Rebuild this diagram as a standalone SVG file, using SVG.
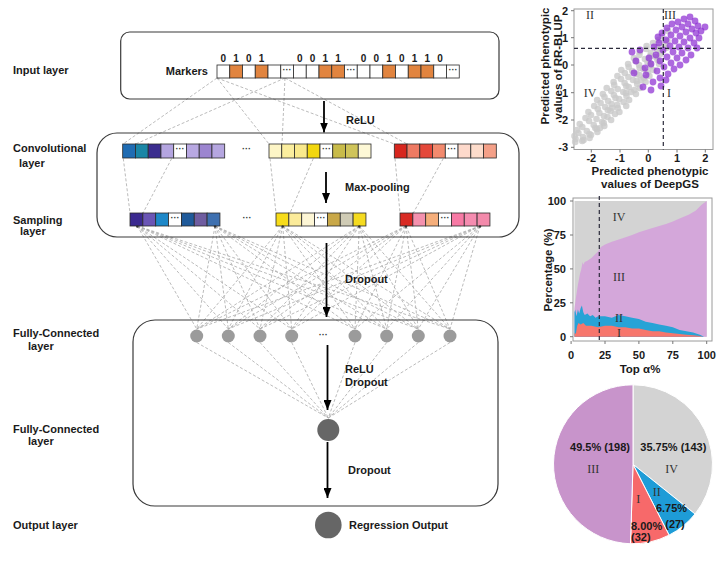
<svg xmlns="http://www.w3.org/2000/svg" width="720" height="571" viewBox="0 0 720 571">
<style>
.lbl{font-family:"Liberation Sans",Arial,sans-serif;font-weight:bold;font-size:11px;fill:#1a1a1a}
.dig{font-family:"Liberation Sans",Arial,sans-serif;font-weight:bold;font-size:10px;fill:#1a1a1a;text-anchor:middle}
.dots{font-family:"Liberation Sans",Arial,sans-serif;font-weight:bold;font-size:9px;fill:#333;text-anchor:middle}
.rom{font-family:"Liberation Serif","Times New Roman",serif;font-size:12px;fill:#333;text-anchor:middle}
.tk{font-family:"Liberation Sans",Arial,sans-serif;font-weight:bold;font-size:11px;fill:#1a1a1a}
.ttl{font-family:"Liberation Sans",Arial,sans-serif;font-weight:bold;font-size:11.5px;fill:#1a1a1a;text-anchor:middle}
.dash{stroke:#a9a9a9;stroke-width:0.8;stroke-dasharray:3 2;fill:none}
.box{fill:none;stroke:#3a3a3a;stroke-width:1.2}
.cell{stroke:#2a2a2a;stroke-width:0.8}
.arr{stroke:#000;stroke-width:1.8;fill:none;marker-end:url(#ah)}
.frame{fill:none;stroke:#9a9a9a;stroke-width:1}
.tick{stroke:#777;stroke-width:1}
.gp circle{fill:#c9c9c9;fill-opacity:0.8}
.pp circle{fill:#8e2fd2;fill-opacity:0.72}
.ref{stroke:#2b2b3b;stroke-width:1.2;stroke-dasharray:4 3;fill:none}
</style>
<defs>
<marker id="ah" markerWidth="10" markerHeight="8" refX="10" refY="4" orient="auto" markerUnits="userSpaceOnUse"><path d="M0,0 L10,4 L0,8 Z" fill="#000"/></marker>
</defs>
<rect x="0" y="0" width="720" height="571" fill="#fff"/>

<!-- Connectors -->
<g id="connectors">
<path class="dash" d="M217,78L123,144M285,78L135.7,144M217,78L269,144M285,78L282,144M217,78L394.3,144M285,78L407,144"/>
<path class="dash" d="M123.3,158.5L130,213M171.7,158.5L143,213M270,158.5L276,213M313.3,158.5L290,213M395,158.5L400,213M443.3,158.5L413.3,213"/>
<path class="dash" d="M137.3,226L196.7,329M137.3,226L228.3,329M137.3,226L260,329M137.3,226L291.7,329M137.3,226L355,329M137.3,226L386.7,329M137.3,226L418.3,329M137.3,226L450,329
M215,226L196.7,329M215,226L228.3,329M215,226L260,329M215,226L291.7,329M215,226L355,329M215,226L386.7,329M215,226L418.3,329M215,226L450,329
M282.7,226L196.7,329M282.7,226L228.3,329M282.7,226L260,329M282.7,226L291.7,329M282.7,226L355,329M282.7,226L386.7,329M282.7,226L418.3,329M282.7,226L450,329
M359.3,226L196.7,329M359.3,226L228.3,329M359.3,226L260,329M359.3,226L291.7,329M359.3,226L355,329M359.3,226L386.7,329M359.3,226L418.3,329M359.3,226L450,329
M406,226L196.7,329M406,226L228.3,329M406,226L260,329M406,226L291.7,329M406,226L355,329M406,226L386.7,329M406,226L418.3,329M406,226L450,329
M480,226L196.7,329M480,226L228.3,329M480,226L260,329M480,226L291.7,329M480,226L355,329M480,226L386.7,329M480,226L418.3,329M480,226L450,329"/>
<path class="dash" d="M196.7,342.5L328.3,418M228.3,342.5L328.3,418M260,342.5L328.3,418M291.7,342.5L328.3,418M355,342.5L328.3,418M386.7,342.5L328.3,418M418.3,342.5L328.3,418M450,342.5L328.3,418"/>
<line class="arr" x1="324" y1="101" x2="324" y2="132.5"/>
<line class="arr" x1="326" y1="172" x2="326" y2="203"/>
<line class="arr" x1="326.5" y1="243" x2="326.5" y2="317"/>
<line class="arr" x1="327.5" y1="345" x2="327.5" y2="410"/>
<line class="arr" x1="327.5" y1="442" x2="327.5" y2="498"/>
<text class="lbl" x="346" y="124">ReLU</text>
<text class="lbl" x="345" y="190.5">Max-pooling</text>
<text class="lbl" x="345" y="283">Dropout</text>
<text class="lbl" x="345" y="373">ReLU</text>
<text class="lbl" x="345" y="386">Dropout</text>
<text class="lbl" x="348" y="474">Dropout</text>
</g>

<!-- Input layer -->
<g id="input-layer">
<rect class="box" x="120.7" y="32" width="378.3" height="67" rx="9"/>
<text class="lbl" x="13" y="74">Input layer</text>
<text class="lbl" x="208" y="74.5" text-anchor="end">Markers</text>
<g class="cell">
<rect x="217" y="65" width="12.75" height="13" fill="#fff"/>
<rect x="229.75" y="65" width="12.75" height="13" fill="#e1843f"/>
<rect x="242.5" y="65" width="12.75" height="13" fill="#fff"/>
<rect x="255.25" y="65" width="12.75" height="13" fill="#e1843f"/>
<rect x="268" y="65" width="12.75" height="13" fill="#fff"/>
<rect x="280.75" y="65" width="12.75" height="13" fill="#fff"/>
<rect x="293.5" y="65" width="12.75" height="13" fill="#fff"/>
<rect x="306.25" y="65" width="12.75" height="13" fill="#fff"/>
<rect x="319" y="65" width="12.75" height="13" fill="#e1843f"/>
<rect x="331.75" y="65" width="12.75" height="13" fill="#e1843f"/>
<rect x="344.5" y="65" width="12.75" height="13" fill="#fff"/>
<rect x="357.25" y="65" width="12.75" height="13" fill="#fff"/>
<rect x="370" y="65" width="12.75" height="13" fill="#fff"/>
<rect x="382.75" y="65" width="12.75" height="13" fill="#e1843f"/>
<rect x="395.5" y="65" width="12.75" height="13" fill="#fff"/>
<rect x="408.25" y="65" width="12.75" height="13" fill="#e1843f"/>
<rect x="421" y="65" width="12.75" height="13" fill="#e1843f"/>
<rect x="433.75" y="65" width="12.75" height="13" fill="#fff"/>
<rect x="446.5" y="65" width="12.75" height="13" fill="#fff"/>
</g>
<text class="dots" x="287.1" y="72.5">···</text>
<text class="dots" x="350.9" y="72.5">···</text>
<text class="dots" x="452.9" y="72.5">···</text>
<text class="dig" x="223.4" y="62">0</text>
<text class="dig" x="236.1" y="62">1</text>
<text class="dig" x="248.9" y="62">0</text>
<text class="dig" x="261.6" y="62">1</text>
<text class="dig" x="299.9" y="62">0</text>
<text class="dig" x="312.6" y="62">0</text>
<text class="dig" x="325.4" y="62">1</text>
<text class="dig" x="338.1" y="62">1</text>
<text class="dig" x="363.6" y="62">0</text>
<text class="dig" x="376.4" y="62">0</text>
<text class="dig" x="389.1" y="62">1</text>
<text class="dig" x="401.9" y="62">0</text>
<text class="dig" x="414.6" y="62">1</text>
<text class="dig" x="427.4" y="62">1</text>
<text class="dig" x="440.1" y="62">0</text>
</g>

<!-- Convolutional layer (box shared with sampling layer) -->
<g id="conv-layer">
<rect class="box" x="97" y="133" width="422" height="104" rx="20"/>
<text class="lbl" x="13" y="152">Convolutional</text>
<text class="lbl" x="19" y="166.5">layer</text>
<g class="cell">
<rect x="122.7" y="144" width="12.75" height="14" fill="#1f6cb3"/>
<rect x="135.45" y="144" width="12.75" height="14" fill="#1a86a6"/>
<rect x="148.2" y="144" width="12.75" height="14" fill="#3b2d8f"/>
<rect x="160.95" y="144" width="12.75" height="14" fill="#b4a5e0"/>
<rect x="173.7" y="144" width="12.75" height="14" fill="#fff"/>
<rect x="186.45" y="144" width="12.75" height="14" fill="#b8a8e2"/>
<rect x="199.2" y="144" width="12.75" height="14" fill="#9c85d0"/>
<rect x="211.95" y="144" width="12.75" height="14" fill="#b5a6e0"/>
<rect x="269" y="144" width="12.75" height="14" fill="#fdf5c6"/>
<rect x="281.75" y="144" width="12.75" height="14" fill="#fbee9e"/>
<rect x="294.5" y="144" width="12.75" height="14" fill="#f9e98c"/>
<rect x="307.25" y="144" width="12.75" height="14" fill="#f2d70f"/>
<rect x="320" y="144" width="12.75" height="14" fill="#fff"/>
<rect x="332.75" y="144" width="12.75" height="14" fill="#c8bb4a"/>
<rect x="345.5" y="144" width="12.75" height="14" fill="#cfc45a"/>
<rect x="358.25" y="144" width="12.75" height="14" fill="#fdf8d6"/>
<rect x="394.3" y="144" width="12.75" height="14" fill="#d7261e"/>
<rect x="407.05" y="144" width="12.75" height="14" fill="#ee7a63"/>
<rect x="419.8" y="144" width="12.75" height="14" fill="#e4483a"/>
<rect x="432.55" y="144" width="12.75" height="14" fill="#f28a6e"/>
<rect x="445.3" y="144" width="12.75" height="14" fill="#fff"/>
<rect x="458.05" y="144" width="12.75" height="14" fill="#fdd9cb"/>
<rect x="470.8" y="144" width="12.75" height="14" fill="#fddccb"/>
<rect x="483.55" y="144" width="12.75" height="14" fill="#f4a088"/>
</g>
<text class="dots" x="180.1" y="152">···</text>
<text class="dots" x="326.4" y="152">···</text>
<text class="dots" x="451.7" y="152">···</text>
<text class="dots" x="246.5" y="152">···</text>
</g>

<!-- Sampling layer -->
<g id="sampling-layer">
<text class="lbl" x="13" y="223.5">Sampling</text>
<text class="lbl" x="20" y="234.5">layer</text>
<g class="cell">
<rect x="130" y="213" width="12.85" height="13" fill="#3b2a90"/>
<rect x="142.85" y="213" width="12.85" height="13" fill="#6a55b5"/>
<rect x="155.7" y="213" width="12.85" height="13" fill="#1e88c8"/>
<rect x="168.55" y="213" width="12.85" height="13" fill="#fff"/>
<rect x="181.4" y="213" width="12.85" height="13" fill="#1f5a9a"/>
<rect x="194.25" y="213" width="12.85" height="13" fill="#6f5da0"/>
<rect x="207.1" y="213" width="12.85" height="13" fill="#3e70b0"/>
<rect x="276" y="213" width="12.85" height="13" fill="#f7dc1a"/>
<rect x="288.85" y="213" width="12.85" height="13" fill="#fbeb9a"/>
<rect x="301.7" y="213" width="12.85" height="13" fill="#fdf6d5"/>
<rect x="314.55" y="213" width="12.85" height="13" fill="#fff"/>
<rect x="327.4" y="213" width="12.85" height="13" fill="#c9a848"/>
<rect x="340.25" y="213" width="12.85" height="13" fill="#cfcbb5"/>
<rect x="353.1" y="213" width="12.85" height="13" fill="#f5db20"/>
<rect x="400" y="213" width="12.85" height="13" fill="#d92b24"/>
<rect x="412.85" y="213" width="12.85" height="13" fill="#f491ae"/>
<rect x="425.7" y="213" width="12.85" height="13" fill="#f5ae7b"/>
<rect x="438.55" y="213" width="12.85" height="13" fill="#fff"/>
<rect x="451.4" y="213" width="12.85" height="13" fill="#f77aa5"/>
<rect x="464.25" y="213" width="12.85" height="13" fill="#f58cb0"/>
<rect x="477.1" y="213" width="12.85" height="13" fill="#f38aab"/>
</g>
<text class="dots" x="175" y="220.5">···</text>
<text class="dots" x="321" y="220.5">···</text>
<text class="dots" x="445" y="220.5">···</text>
<text class="dots" x="247" y="220.5">···</text>
<g fill="#333">
<circle cx="137.3" cy="226.5" r="1.2"/><circle cx="215" cy="226.5" r="1.2"/>
<circle cx="282.7" cy="226.5" r="1.2"/><circle cx="359.3" cy="226.5" r="1.2"/>
<circle cx="406" cy="226.5" r="1.2"/><circle cx="480" cy="226.5" r="1.2"/>
</g>
</g>

<!-- Fully-connected block -->
<g id="fc-block">
<rect class="box" x="133" y="320" width="365" height="186" rx="22"/>
</g>

<g id="fc-layer-1">
<text class="lbl" x="13" y="337">Fully-Connected</text>
<text class="lbl" x="28" y="350">layer</text>
<g fill="#9b9b9b">
<circle cx="196.7" cy="336" r="6.5"/><circle cx="228.3" cy="336" r="6.5"/>
<circle cx="260" cy="336" r="6.5"/><circle cx="291.7" cy="336" r="6.5"/>
<circle cx="355" cy="336" r="6.5"/><circle cx="386.7" cy="336" r="6.5"/>
<circle cx="418.3" cy="336" r="6.5"/><circle cx="450" cy="336" r="6.5"/>
</g>
<text class="dots" x="323.3" y="338">···</text>
</g>

<g id="fc-layer-2">
<text class="lbl" x="13" y="432.5">Fully-Connected</text>
<text class="lbl" x="28" y="445">layer</text>
<circle cx="328.3" cy="430" r="11" fill="#666"/>
</g>

<g id="output-layer">
<text class="lbl" x="13" y="528.5">Output layer</text>
<circle cx="328.3" cy="525" r="13.3" fill="#666"/>
<text class="lbl" x="349" y="528.5">Regression Output</text>
</g>

<!-- Scatter plot -->
<g id="scatter-plot">
<rect class="frame" x="574" y="9" width="139" height="140.5"/>
<path class="tick" d="M571,10.7H574M571,37.7H574M571,65H574M571,92.7H574M571,120H574M571,147.3H574M591.3,149.5V152.5M620,149.5V152.5M648.3,149.5V152.5M677,149.5V152.5M705.3,149.5V152.5"/>
<g class="tk" text-anchor="end">
<text x="568" y="14.7">2</text><text x="568" y="41.7">1</text><text x="568" y="69">0</text>
<text x="568" y="96.7">-1</text><text x="568" y="124">-2</text><text x="568" y="151.3">-3</text>
</g>
<g class="tk" text-anchor="middle">
<text x="591.3" y="162">-2</text><text x="620" y="162">-1</text><text x="648.3" y="162">0</text>
<text x="677" y="162">1</text><text x="705.3" y="162">2</text>
</g>
<text class="ttl" x="650" y="175">Predicted phenotypic</text>
<text class="ttl" x="650" y="188">values of DeepGS</text>
<text class="ttl" transform="translate(549,66) rotate(-90)">Predicted phenotypic</text>
<text class="ttl" transform="translate(561.5,67) rotate(-90)">values of RR-BLUP</text>
<g class="gp">
<circle cx="575.2" cy="142" r="3.3"/><circle cx="582.2" cy="141" r="3.3"/>
<circle cx="575.6" cy="139" r="3.3"/><circle cx="583.6" cy="140" r="3.3"/><circle cx="589.6" cy="138" r="3.3"/>
<circle cx="574.5" cy="136" r="3.3"/><circle cx="583" cy="137" r="3.3"/><circle cx="591" cy="135" r="3.3"/>
<circle cx="578.4" cy="133" r="3.3"/><circle cx="589.4" cy="134" r="3.3"/><circle cx="597.4" cy="132" r="3.3"/>
<circle cx="576.8" cy="130" r="3.3"/><circle cx="586.8" cy="131" r="3.3"/><circle cx="596.8" cy="129" r="3.3"/>
<circle cx="582.3" cy="127" r="3.3"/><circle cx="595.3" cy="128" r="3.3"/><circle cx="604.3" cy="126" r="3.3"/>
<circle cx="579.7" cy="124" r="3.3"/><circle cx="593.7" cy="125" r="3.3"/><circle cx="603.7" cy="123" r="3.3"/>
<circle cx="589.1" cy="121" r="3.3"/><circle cx="602.1" cy="122" r="3.3"/><circle cx="611.1" cy="120" r="3.3"/>
<circle cx="585.5" cy="118" r="3.3"/><circle cx="596.5" cy="119" r="3.3"/><circle cx="607.5" cy="117" r="3.3"/>
<circle cx="591" cy="115" r="3.3"/><circle cx="604" cy="116" r="3.3"/><circle cx="615" cy="114" r="3.3"/>
<circle cx="588.4" cy="112" r="3.3"/><circle cx="599.4" cy="113" r="3.3"/><circle cx="610.4" cy="111" r="3.3"/><circle cx="619.4" cy="112" r="3.3"/>
<circle cx="597.8" cy="109" r="3.3"/><circle cx="607.8" cy="110" r="3.3"/><circle cx="617.8" cy="108" r="3.3"/>
<circle cx="594.2" cy="106" r="3.3"/><circle cx="605.2" cy="107" r="3.3"/><circle cx="617.2" cy="105" r="3.3"/><circle cx="626.2" cy="106" r="3.3"/>
<circle cx="600.6" cy="103" r="3.3"/><circle cx="611.6" cy="104" r="3.3"/><circle cx="623.6" cy="102" r="3.3"/>
<circle cx="597.1" cy="100" r="3.3"/><circle cx="608.1" cy="101" r="3.3"/><circle cx="619.1" cy="99" r="3.3"/><circle cx="629.1" cy="100" r="3.3"/>
<circle cx="604.5" cy="97" r="3.3"/><circle cx="615.5" cy="98" r="3.3"/><circle cx="626.5" cy="96" r="3.3"/>
<circle cx="602.9" cy="94" r="3.3"/><circle cx="613.9" cy="95" r="3.3"/><circle cx="625.9" cy="93" r="3.3"/><circle cx="635.9" cy="94" r="3.3"/>
<circle cx="611.3" cy="91" r="3.3"/><circle cx="623.3" cy="92" r="3.3"/><circle cx="634.3" cy="90" r="3.3"/>
<circle cx="606.7" cy="88" r="3.3"/><circle cx="617.7" cy="89" r="3.3"/><circle cx="628.7" cy="87" r="3.3"/><circle cx="639.7" cy="88" r="3.3"/>
<circle cx="614.2" cy="85" r="3.3"/><circle cx="626.2" cy="86" r="3.3"/><circle cx="637.2" cy="84" r="3.3"/>
<circle cx="613.6" cy="82" r="3.3"/><circle cx="624.6" cy="83" r="3.3"/><circle cx="636.6" cy="81" r="3.3"/><circle cx="645.6" cy="82" r="3.3"/>
<circle cx="621" cy="79" r="3.3"/><circle cx="633" cy="80" r="3.3"/><circle cx="644" cy="78" r="3.3"/>
<circle cx="617.4" cy="76" r="3.3"/><circle cx="628.4" cy="77" r="3.3"/><circle cx="639.4" cy="75" r="3.3"/><circle cx="649.4" cy="76" r="3.3"/>
<circle cx="624.8" cy="73" r="3.3"/><circle cx="636.8" cy="74" r="3.3"/><circle cx="647.8" cy="72" r="3.3"/>
<circle cx="621.3" cy="70" r="3.3"/><circle cx="632.3" cy="71" r="3.3"/><circle cx="643.3" cy="69" r="3.3"/><circle cx="653.3" cy="70" r="3.3"/>
<circle cx="628.7" cy="67" r="3.3"/><circle cx="639.7" cy="68" r="3.3"/><circle cx="650.7" cy="66" r="3.3"/>
<circle cx="628.1" cy="64" r="3.3"/><circle cx="639.1" cy="65" r="3.3"/><circle cx="650.1" cy="63" r="3.3"/><circle cx="659.1" cy="64" r="3.3"/>
<circle cx="635.5" cy="61" r="3.3"/><circle cx="647.5" cy="62" r="3.3"/><circle cx="657.5" cy="60" r="3.3"/>
<circle cx="633.9" cy="58" r="3.3"/><circle cx="644.9" cy="59" r="3.3"/><circle cx="655.9" cy="57" r="3.3"/>
<circle cx="639.4" cy="55" r="3.3"/><circle cx="650.4" cy="56" r="3.3"/><circle cx="660.4" cy="54" r="3.3"/>
<circle cx="639.8" cy="52" r="3.3"/><circle cx="650.8" cy="53" r="3.3"/><circle cx="660.8" cy="51" r="3.3"/>
<circle cx="646.2" cy="49" r="3.3"/><circle cx="657.2" cy="50" r="3.3"/><circle cx="666.2" cy="48" r="3.3"/>
<circle cx="646.6" cy="46" r="3.3"/><circle cx="657.6" cy="47" r="3.3"/>
<circle cx="653" cy="43" r="3.3"/><circle cx="664" cy="44" r="3.3"/>
<circle cx="658.5" cy="40" r="3.3"/><circle cx="667.5" cy="41" r="3.3"/>
<circle cx="662" cy="36" r="3.3"/><circle cx="668" cy="31" r="3.3"/><circle cx="600" cy="128" r="3.3"/>
<circle cx="612" cy="108" r="3.3"/><circle cx="631" cy="92" r="3.3"/><circle cx="641" cy="80" r="3.3"/>
</g>
<g class="pp">
<circle cx="690" cy="17" r="3.4"/><circle cx="684" cy="19" r="3.4"/><circle cx="695" cy="21" r="3.4"/><circle cx="678" cy="22" r="3.4"/>
<circle cx="688" cy="24" r="3.4"/><circle cx="672" cy="24" r="3.4"/><circle cx="698" cy="26" r="3.4"/><circle cx="682" cy="27" r="3.4"/>
<circle cx="692" cy="29" r="3.4"/><circle cx="667" cy="28" r="3.4"/><circle cx="676" cy="30" r="3.4"/><circle cx="686" cy="32" r="3.4"/>
<circle cx="696" cy="33" r="3.4"/><circle cx="662" cy="33" r="3.4"/><circle cx="671" cy="35" r="3.4"/><circle cx="680" cy="36" r="3.4"/>
<circle cx="690" cy="38" r="3.4"/><circle cx="699" cy="38" r="3.4"/><circle cx="666" cy="40" r="3.4"/><circle cx="675" cy="41" r="3.4"/>
<circle cx="684" cy="42" r="3.4"/><circle cx="694" cy="43" r="3.4"/><circle cx="659" cy="43" r="3.4"/><circle cx="670" cy="46" r="3.4"/>
<circle cx="679" cy="47" r="3.4"/><circle cx="688" cy="48" r="3.4"/><circle cx="697" cy="48" r="3.4"/><circle cx="663" cy="50" r="3.4"/>
<circle cx="673" cy="52" r="3.4"/><circle cx="682" cy="53" r="3.4"/><circle cx="691" cy="55" r="3.4"/><circle cx="656" cy="55" r="3.4"/>
<circle cx="667" cy="57" r="3.4"/><circle cx="677" cy="58" r="3.4"/><circle cx="686" cy="60" r="3.4"/><circle cx="660" cy="61" r="3.4"/>
<circle cx="671" cy="63" r="3.4"/><circle cx="680" cy="65" r="3.4"/><circle cx="651" cy="64" r="3.4"/><circle cx="664" cy="67" r="3.4"/>
<circle cx="674" cy="69" r="3.4"/><circle cx="657" cy="71" r="3.4"/><circle cx="668" cy="74" r="3.4"/><circle cx="646" cy="75" r="3.4"/>
<circle cx="660" cy="78" r="3.4"/><circle cx="653" cy="82" r="3.4"/><circle cx="643" cy="87" r="3.4"/><circle cx="636" cy="61" r="3.4"/>
<circle cx="634" cy="73" r="3.4"/><circle cx="640" cy="50" r="3.4"/><circle cx="632" cy="52" r="3.4"/><circle cx="705" cy="27" r="3.4"/>
<circle cx="701" cy="31" r="3.4"/><circle cx="658" cy="37" r="3.4"/><circle cx="654" cy="47" r="3.4"/><circle cx="649" cy="58" r="3.4"/>
<circle cx="645" cy="68" r="3.4"/><circle cx="661" cy="86" r="3.4"/><circle cx="651" cy="90" r="3.4"/><circle cx="666" cy="80" r="3.4"/>
</g>
<line class="ref" x1="663.3" y1="9" x2="663.3" y2="149.5"/>
<line class="ref" x1="574" y1="48.3" x2="713" y2="48.3"/>
<text class="rom" x="590" y="19">II</text>
<text class="rom" x="670" y="19">III</text>
<text class="rom" x="590" y="97">IV</text>
<text class="rom" x="669" y="97">I</text>
</g>

<!-- Area chart -->
<g id="area-chart">
<rect x="574.5" y="201" width="132.2" height="135.7" fill="#d3d3d3"/>
<polygon fill="#d4a7da" points="574.5,336.7 574.5,308.2 575.8,298.7 577.9,285.1 579.9,274.3 581.3,268.9 582.6,262.1 583.3,264.8 584.7,262.1 587.4,260.7 591.4,258 594.2,255.3 598.2,251.2 600.9,247.1 605,244.4 611.8,241.7 622.6,238.3 632.1,234.9 638.9,232.2 652.5,228.1 666,224.1 672.8,221.4 679.6,218.6 689.1,214.6 695.9,210.5 701.3,205.1 706.7,201 706.7,336.7"/>
<polygon fill="#27a3d6" points="574.5,336.7 574.5,312.3 575.2,309.6 576.5,316.3 577.9,309.6 579.2,313.6 580.6,308.2 581.9,305.5 583.3,312.3 584.7,315 587.4,313.6 590.1,316.3 592.8,315 595.5,317.7 598.2,316.3 605,316.3 611.8,317.7 618.6,315 625.3,316.3 632.1,317.7 638.9,319.1 645.7,321.8 652.5,323.1 659.2,324.5 666,325.8 672.8,327.2 679.6,329.9 686.4,331.3 693.1,332.6 699.9,334.7 704,336.7"/>
<polygon fill="#f7766c" points="574.5,336.7 574.5,332.6 575.8,334 577.2,325.8 578.6,323.1 580.6,324.5 583.3,323.1 586,325.8 591.4,325.8 598.2,327.2 605,325.8 611.8,325.8 618.6,327.2 625.3,327.2 632.1,328.6 638.9,328.6 645.7,329.9 652.5,331.3 659.2,331.3 666,332.6 672.8,333.3 679.6,334 686.4,334.7 693.1,335.3 699.9,336 702.6,336.7"/>
<rect class="frame" x="573" y="198" width="139" height="143"/>
<line class="ref" x1="599.3" y1="196" x2="599.3" y2="343"/>
<path class="tick" d="M570,336.7H573M570,302.8H573M570,268.9H573M570,235H573M570,201H573M571.1,341V344M605,341V344M638.9,341V344M672.8,341V344M706.7,341V344"/>
<g class="tk" text-anchor="end">
<text x="566" y="205">100</text><text x="566" y="238.9">75</text><text x="566" y="272.8">50</text>
<text x="566" y="306.7">25</text><text x="566" y="340.6">0</text>
</g>
<g class="tk" text-anchor="middle">
<text x="571.1" y="359">0</text><text x="605" y="359">25</text><text x="638.9" y="359">50</text>
<text x="672.8" y="359">75</text><text x="706.7" y="359">100</text>
</g>
<text class="ttl" x="640" y="373">Top α%</text>
<text class="ttl" transform="translate(552,270) rotate(-90)">Percentage (%)</text>
<text class="rom" x="619" y="220.5">IV</text>
<text class="rom" x="619" y="280.5">III</text>
<text class="rom" x="619" y="321.5" fill="#1f3f6a" font-size="11">II</text>
<text class="rom" x="619" y="336.5" fill="#5a2222" font-size="11">I</text>
</g>

<!-- Pie chart -->
<g id="pie-chart">
<g stroke="#fff" stroke-width="1">
<path fill="#d3d3d3" d="M633,464.3 L633,384.8 A79.5,79.5 0 0 1 695.04,514 Z"/>
<path fill="#1e9cd7" d="M633,464.3 L695.04,514 A79.5,79.5 0 0 1 669.09,535.13 Z"/>
<path fill="#f7696a" d="M633,464.3 L669.09,535.13 A79.5,79.5 0 0 1 630.5,543.76 Z"/>
<path fill="#c894cb" d="M633,464.3 L630.5,543.76 A79.5,79.5 0 0 1 633,384.8 Z"/>
</g>
<text class="lbl" x="600" y="450.5" text-anchor="middle">49.5% (198)</text>
<text class="lbl" x="673.3" y="450.5" text-anchor="middle">35.75% (143)</text>
<text class="rom" x="593.3" y="473">III</text>
<text class="rom" x="671.7" y="473">IV</text>
<text class="rom" x="656.7" y="495.5">II</text>
<text class="rom" x="638.3" y="503">I</text>
<text class="lbl" x="671.5" y="512" text-anchor="middle">6.75%</text>
<text class="lbl" x="675" y="528" text-anchor="middle">(27)</text>
<text class="lbl" x="631" y="529.5">8.00%</text>
<text class="lbl" x="631" y="540.5">(32)</text>
</g>
</svg>
